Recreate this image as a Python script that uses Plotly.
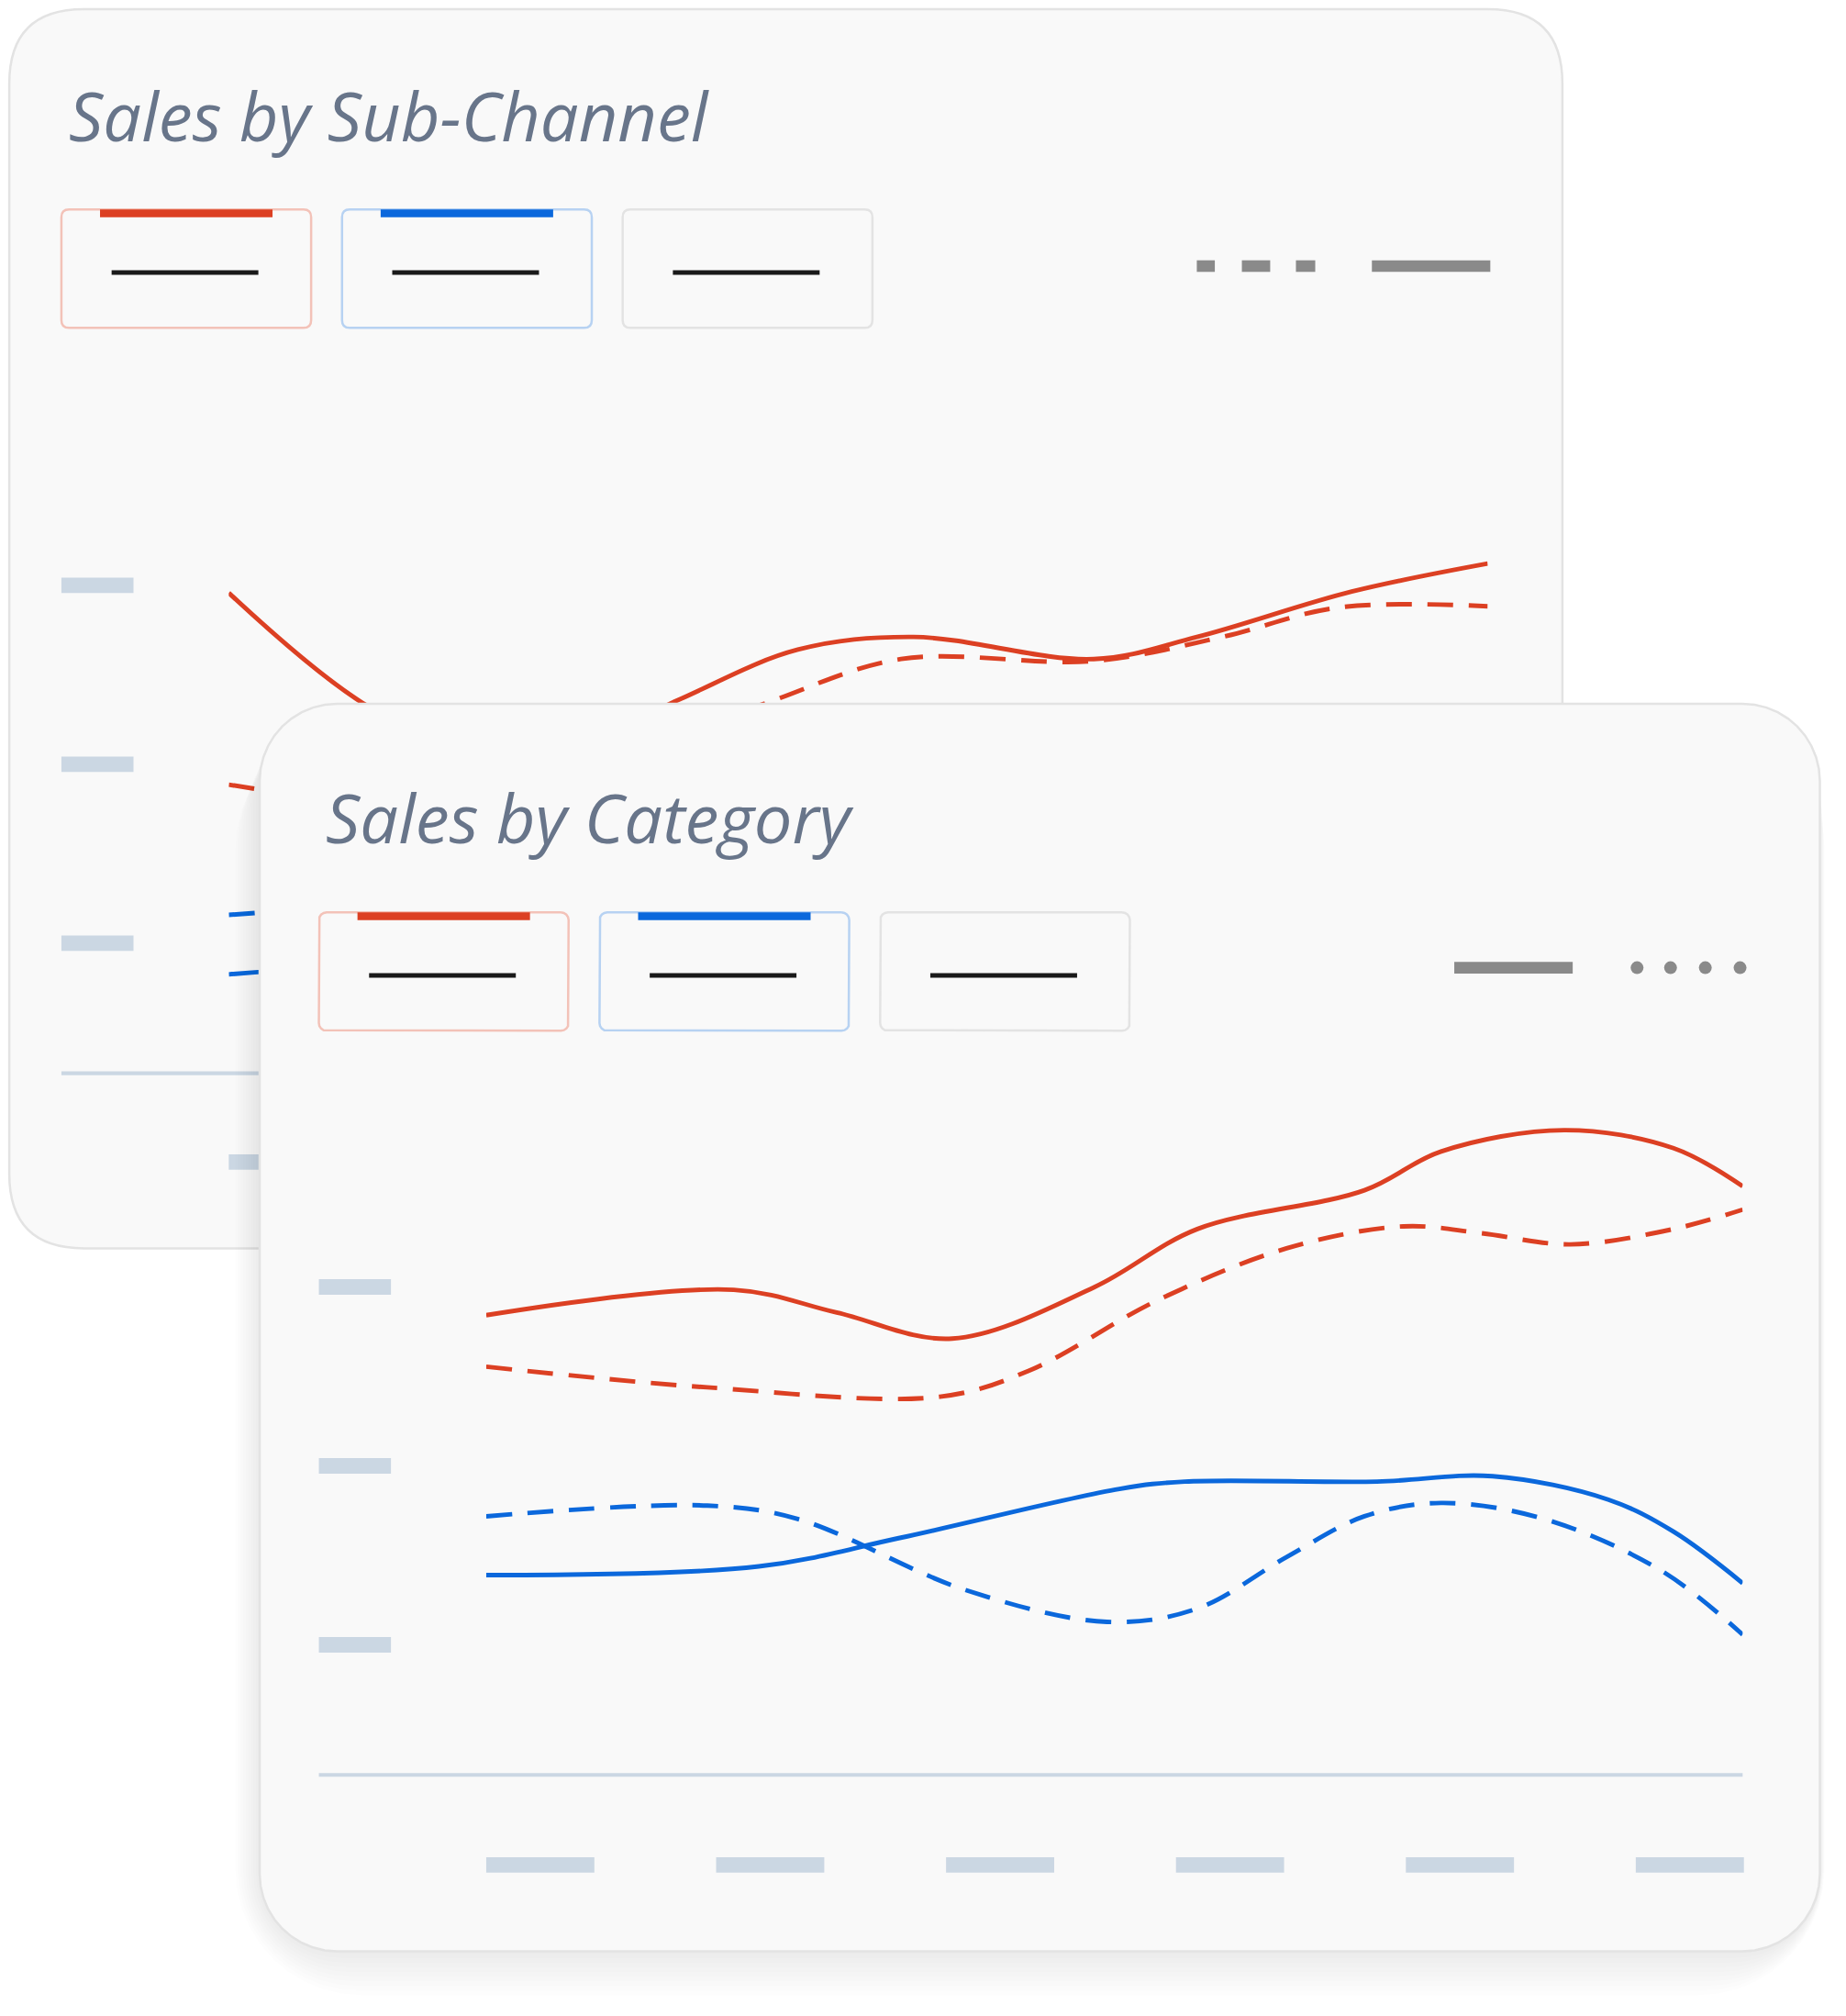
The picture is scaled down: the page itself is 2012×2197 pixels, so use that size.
import math
import plotly.graph_objects as go

W, H = 1434, 1566          # design grid (scaled to the 2012x2197 page)
SC = 2012 / W

# ---- data: back chart "Sales by Sub-Channel"
sub_red_x = [0, 1.09, 2.3, 3.55, 4.52, 5.44, 6.87, 7.69, 8.92, 10]
sub_red_y = [71.9, 55.1, 45.0, 55.7, 63.4, 65.3, 62.0, 65.3, 72.1, 76.3]
sub_red2_x = [0, 2.5, 3.5, 4.31, 5.34, 6.87, 7.89, 8.81, 10]
sub_red2_y = [43.2, 40.0, 50.0, 55.7, 62.0, 61.7, 65.3, 69.7, 69.9]
sub_blue_x = [0, 2, 4, 6, 8, 10]
sub_blue_y = [14.8, 18.0, 22.0, 24.0, 21.0, 19.0]
sub_blue2_y = [23.7, 25.0, 20.0, 22.0, 27.0, 24.0]

# ---- data: front chart "Sales by Category"
cat_red_x = [0, 1.97, 2.79, 3.71, 4.84, 5.66, 6.99, 7.6, 8.58, 9.45, 10]
cat_red_y = [68.8, 72.6, 69.2, 65.3, 73.0, 81.7, 87.5, 93.3, 96.5, 93.8, 88.1]
cat_red2_x = [0, 1.76, 3.61, 4.32, 5.35, 6.37, 7.3, 7.91, 8.63, 9.45, 10]
cat_red2_y = [61.1, 58.0, 56.6, 60.5, 71.1, 78.8, 82.1, 81.1, 79.4, 81.7, 84.6]
cat_blue_x = [0, 2.17, 3.30, 5.04, 5.56, 7.09, 8.01, 8.93, 9.45, 10]
cat_blue_y = [29.9, 31.2, 35.5, 42.8, 43.9, 43.9, 44.7, 41.2, 36.4, 28.7]
cat_blue2_x = [0, 1.76, 2.48, 3.81, 4.94, 5.66, 6.37, 6.99, 7.6, 8.42, 9.35, 10]
cat_blue2_y = [38.7, 40.3, 38.3, 27.7, 22.9, 24.9, 32.6, 38.7, 40.7, 38.3, 30.6, 21.0]

RED, BLUE = "#dc4023", "#0b68dc"
PILL, GREY = "#cbd7e3", "#8a8a8a"
CARD, BORDER = "#f9f9f9", "#e3e3e3"
DASH = f"{20*SC:.0f}px,{12*SC:.0f}px"
OX, OY = -6, -6   # compensate page margin


def px(x):
    return (x + OX) / W


def py(y):
    return 1 - (y + OY) / H


def rr_path(x0, y0, x1, y1, r):
    # paper-coordinate rounded rectangle
    P = lambda x, y: f"{px(x):.5f},{py(y):.5f}"
    return (f"M{P(x0+r,y0)} L{P(x1-r,y0)} Q{P(x1,y0)} {P(x1,y0+r)} L{P(x1,y1-r)} "
            f"Q{P(x1,y1)} {P(x1-r,y1)} L{P(x0+r,y1)} Q{P(x0,y1)} {P(x0,y1-r)} "
            f"L{P(x0,y0+r)} Q{P(x0,y0)} {P(x0+r,y0)} Z")


def rr_pts(x0, y0, x1, y1, r, n=10):
    xs, ys = [], []
    for cx, cy, a0 in [(x1 - r, y0 + r, -90), (x1 - r, y1 - r, 0),
                       (x0 + r, y1 - r, 90), (x0 + r, y0 + r, 180)]:
        for i in range(n + 1):
            a = math.radians(a0 + 90 * i / n)
            xs.append(cx + r * math.cos(a) + OX)
            ys.append(cy + r * math.sin(a) + OY)
    xs.append(xs[0]); ys.append(ys[0])
    return xs, ys


fig = go.Figure()
shapes = []


def seg(x0, y0, x1, y1, color, w, dash=None):
    shapes.append(dict(type="line", xref="paper", yref="paper", x0=px(x0), y0=py(y0),
                       x1=px(x1), y1=py(y1), layer="below",
                       line=dict(color=color, width=w * SC, dash=dash)))


# back card
shapes.append(dict(type="path", xref="paper", yref="paper", path=rr_path(7.5, 7.5, 1214, 970, 58),
                   layer="below", fillcolor=CARD, line=dict(color=BORDER, width=2.5)))
for i, (bc, top) in enumerate([("#f3c2b8", RED), ("#b7d2f2", BLUE), (BORDER, None)]):
    x0 = 48 + i * 218
    shapes.append(dict(type="path", xref="paper", yref="paper", path=rr_path(x0, 163, x0 + 194, 255, 6),
                       layer="below", fillcolor=CARD, line=dict(color=bc, width=2.5)))
    if top:
        seg(x0 + 30, 166, x0 + 164, 166, top, 6)
    seg(x0 + 39, 212, x0 + 153, 212, "#1a1a1a", 3.5)
for a, b in [(930, 944), (965, 987), (1007, 1022)]:
    seg(a, 207, b, 207, GREY, 9)
seg(1066, 207, 1158, 207, GREY, 9)
for yy in [455, 594, 733]:
    seg(48, yy, 104, yy, PILL, 12)
seg(48, 834, 1156, 834, PILL, 3)
for k in range(6):
    seg(178 + k * 178.6, 903, 262 + k * 178.6, 903, PILL, 12)

# back chart lines (subplot 1)
line_w = 3.5 * SC
fig.add_trace(go.Scatter(x=sub_blue_x, y=sub_blue_y, xaxis="x", yaxis="y", mode="lines",
                         line=dict(color=BLUE, width=line_w, shape="spline")))
fig.add_trace(go.Scatter(x=sub_blue_x, y=sub_blue2_y, xaxis="x", yaxis="y", mode="lines",
                         line=dict(color=BLUE, width=line_w, shape="spline", dash=DASH)))
fig.add_trace(go.Scatter(x=sub_red_x, y=sub_red_y, xaxis="x", yaxis="y", mode="lines",
                         line=dict(color=RED, width=line_w, shape="spline")))
fig.add_trace(go.Scatter(x=sub_red2_x, y=sub_red2_y, xaxis="x", yaxis="y", mode="lines",
                         line=dict(color=RED, width=line_w, shape="spline", dash=DASH)))

# front card (subplot 2, design pixel coords) with soft shadow
for d in range(2, 42, 4):
    xs, ys = rr_pts(202 - d * 0.5, 547 + d * 0.4, 1414 + d * 0.1, 1516 + d * 0.9, 60 + d)
    fig.add_trace(go.Scatter(x=xs, y=ys, xaxis="x2", yaxis="y2", mode="lines", fill="toself",
                             fillcolor="rgba(0,0,0,0.009)", line=dict(width=0)))
xs, ys = rr_pts(202, 547, 1414, 1516, 60)
fig.add_trace(go.Scatter(x=xs, y=ys, xaxis="x2", yaxis="y2", mode="lines", fill="toself",
                         fillcolor=CARD, line=dict(color=BORDER, width=2.5)))


def fseg(x0, y0, x1, y1, color, w, dash=None):
    fig.add_trace(go.Scatter(x=[x0 + OX, x1 + OX], y=[y0 + OY, y1 + OY], xaxis="x2", yaxis="y2",
                             mode="lines", line=dict(color=color, width=w * SC, dash=dash)))


for i, (bc, top) in enumerate([("#f3c2b8", RED), ("#b7d2f2", BLUE), (BORDER, None)]):
    x0 = 248 + i * 218
    xs, ys = rr_pts(x0, 709, x0 + 194, 801, 6, 4)
    fig.add_trace(go.Scatter(x=xs, y=ys, xaxis="x2", yaxis="y2", mode="lines", fill="toself",
                             fillcolor=CARD, line=dict(color=bc, width=2.5)))
    if top:
        fseg(x0 + 30, 712, x0 + 164, 712, top, 6)
    fseg(x0 + 39, 758, x0 + 153, 758, "#1a1a1a", 3.5)
fseg(1130, 752, 1222, 752, GREY, 9)
fig.add_trace(go.Scatter(x=[1272 + OX, 1298 + OX, 1325 + OX, 1352 + OX], y=[752 + OY] * 4,
                         xaxis="x2", yaxis="y2", mode="markers",
                         marker=dict(color=GREY, size=14, line=dict(width=0))))
for yy in [1000, 1139, 1278]:
    fseg(248, yy, 304, yy, PILL, 12)
fseg(248, 1379, 1354, 1379, PILL, 3)
for k in range(6):
    fseg(378 + k * 178.6, 1449, 462 + k * 178.6, 1449, PILL, 12)

# front chart lines (subplot 3)
fig.add_trace(go.Scatter(x=cat_red_x, y=cat_red_y, xaxis="x3", yaxis="y3", mode="lines",
                         line=dict(color=RED, width=line_w, shape="spline")))
fig.add_trace(go.Scatter(x=cat_red2_x, y=cat_red2_y, xaxis="x3", yaxis="y3", mode="lines",
                         line=dict(color=RED, width=line_w, shape="spline", dash=DASH)))
fig.add_trace(go.Scatter(x=cat_blue_x, y=cat_blue_y, xaxis="x3", yaxis="y3", mode="lines",
                         line=dict(color=BLUE, width=line_w, shape="spline")))
fig.add_trace(go.Scatter(x=cat_blue2_x, y=cat_blue2_y, xaxis="x3", yaxis="y3", mode="lines",
                         line=dict(color=BLUE, width=line_w, shape="spline", dash=DASH)))

hid = dict(visible=False, fixedrange=True)
fig.update_layout(
    width=2012, height=2197, margin=dict(l=0, r=0, t=0, b=0),
    paper_bgcolor="white", plot_bgcolor="rgba(0,0,0,0)", showlegend=False,
    xaxis=dict(domain=[px(178), px(1156)], range=[0, 10], **hid),
    yaxis=dict(domain=[py(834), py(315)], range=[0, 100], **hid),
    xaxis2=dict(domain=[0, 1], range=[0, W], **hid),
    yaxis2=dict(domain=[0, 1], range=[H, 0], **hid),
    xaxis3=dict(domain=[px(378), px(1354)], range=[0, 10], **hid),
    yaxis3=dict(domain=[py(1379), py(860)], range=[0, 100], **hid),
    shapes=shapes,
    annotations=[
        dict(text="<i>Sales by Sub-Channel</i>", x=px(52), y=py(90), xref="paper", yref="paper",
             xanchor="left", yanchor="middle", showarrow=False,
             font=dict(family="Open Sans", size=74, color="#68758a")),
        dict(text="<i>Sales by Category</i>", x=px(252), y=py(635), xref="paper", yref="paper",
             xanchor="left", yanchor="middle", showarrow=False,
             font=dict(family="Open Sans", size=74, color="#68758a")),
    ],
)
fig.write_html("out.html")
